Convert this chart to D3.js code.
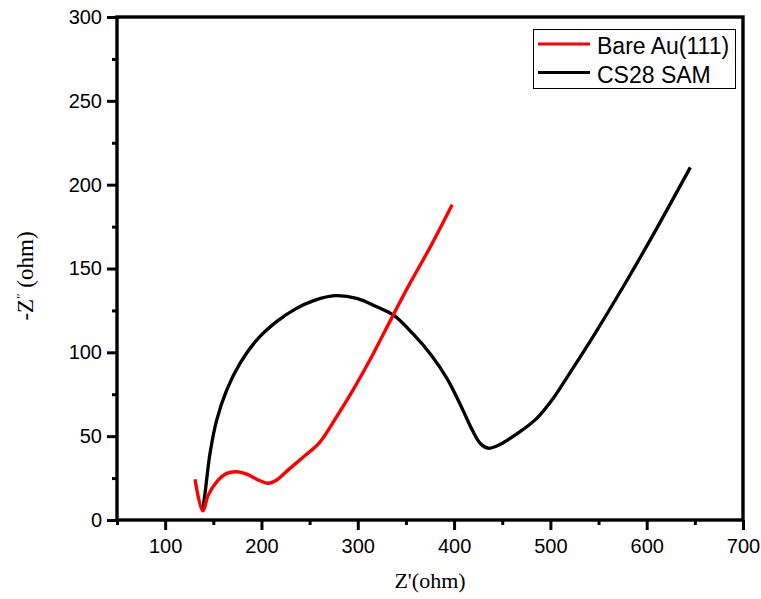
<!DOCTYPE html>
<html>
<head>
<meta charset="utf-8">
<script src="https://cdn.jsdelivr.net/npm/d3@7"></script>
<style>
  html, body { margin: 0; padding: 0; background: #fff; }
  svg { display: block; }
</style>
</head>
<body>
<svg id="chart" width="761" height="599"></svg>
<script>
// Nyquist data: real impedance Z' (ohm) and -Z'' (ohm)
const bareZre = [131, 139, 144.8, 153.5, 163.9, 174.3, 184.7, 198.5, 207.1, 215.8, 229.6, 245, 260, 278, 295, 315, 337, 355, 375, 398];
const bareZim = [24.3, 5.5, 14.9, 22.8, 27.8, 28.8, 27.4, 23.4, 21.9, 23.9, 30.8, 38.3, 46, 61.6, 77.5, 98, 122.5, 142, 162.5, 188];

const samZre = [139, 141.4, 146.6, 153.5, 163.9, 177.7, 195, 215, 235, 255, 276.4, 298.9, 319.7, 336.9, 357.7, 376, 393, 408, 419, 427.5, 435.5, 444.3, 468.5, 485.8, 503, 520, 545, 575, 610, 645.3];
const samZim = [6.0, 15.9, 39.8, 59.6, 77.5, 93.4, 107.3, 118, 125.8, 131, 133.8, 132.2, 127.2, 122.3, 110.8, 98.5, 84, 67, 53.5, 45.5, 42.8, 44.1, 52.7, 60.6, 72.6, 87.5, 110, 138.5, 173.5, 210.3];

const seriesNames = ["Bare Au(111)", "CS28 SAM"];
const seriesColors = ["#ff0000", "#000000"];

const xMajor = [100, 200, 300, 400, 500, 600, 700];
const xMinor = [50, 150, 250, 350, 450, 550, 650];
const yMajor = [0, 50, 100, 150, 200, 250, 300];
const yMinor = [25, 75, 125, 175, 225, 275];

const xTitle = "Z'(ohm)";

const svg = d3.select("#chart");
const plotL = 117, plotT = 17, plotR = 743, plotB = 520;

const x = d3.scaleLinear().domain([50, 700]).range([plotL, plotR]);
const y = d3.scaleLinear().domain([0, 300]).range([plotB, plotT]);

const tickFont = "'Liberation Sans', Arial, sans-serif";
const titleFont = "'Liberation Serif', 'Times New Roman', serif";

// axes: major ticks with labels, minor ticks without
function styleAxis(g) {
  g.select(".domain").remove();
  g.selectAll(".tick line").attr("stroke", "#000").attr("stroke-width", 3);
  g.selectAll(".tick text").attr("fill", "#000")
    .style("font-family", tickFont).style("font-size", "20px");
}

svg.append("g").attr("transform", `translate(0,${plotB})`)
  .call(d3.axisBottom(x).tickValues(xMajor).tickSize(10).tickPadding(9).tickFormat(d3.format("d")))
  .call(styleAxis);
svg.append("g").attr("transform", `translate(0,${plotB})`)
  .call(d3.axisBottom(x).tickValues(xMinor).tickSize(5).tickFormat(""))
  .call(styleAxis);
svg.append("g").attr("transform", `translate(${plotL},0)`)
  .call(d3.axisLeft(y).tickValues(yMajor).tickSize(10).tickPadding(5).tickFormat(d3.format("d")))
  .call(styleAxis);
svg.append("g").attr("transform", `translate(${plotL},0)`)
  .call(d3.axisLeft(y).tickValues(yMinor).tickSize(5).tickFormat(""))
  .call(styleAxis);

// plot frame
svg.append("rect")
  .attr("x", plotL).attr("y", plotT)
  .attr("width", plotR - plotL).attr("height", plotB - plotT)
  .attr("fill", "none").attr("stroke", "#000").attr("stroke-width", 3.4);

// curves
const line = d3.line()
  .x(d => x(d[0])).y(d => y(d[1]))
  .curve(d3.curveCatmullRom.alpha(0.5));

const samPts = samZre.map((v, i) => [v, samZim[i]]);
const barePts = bareZre.map((v, i) => [v, bareZim[i]]);

svg.append("path").datum(samPts)
  .attr("d", line).attr("fill", "none")
  .attr("stroke", seriesColors[1]).attr("stroke-width", 3.3)
  .attr("stroke-linejoin", "round");
svg.append("path").datum(barePts)
  .attr("d", line).attr("fill", "none")
  .attr("stroke", seriesColors[0]).attr("stroke-width", 3.4)
  .attr("stroke-linejoin", "round");

// legend
const lg = svg.append("g");
lg.append("rect").attr("x", 533.5).attr("y", 29.5).attr("width", 202).attr("height", 59)
  .attr("fill", "#fff").attr("stroke", "#000").attr("stroke-width", 1);
seriesNames.forEach((name, i) => {
  const cy = 44 + i * 28.5;
  lg.append("line").attr("x1", 538).attr("x2", 590).attr("y1", cy).attr("y2", cy)
    .attr("stroke", seriesColors[i]).attr("stroke-width", 3);
  lg.append("text").attr("x", 597).attr("y", cy + 10)
    .style("font-family", tickFont).style("font-size", "23px").attr("fill", "#000")
    .text(name);
});

// axis titles
svg.append("text").attr("x", 430).attr("y", 588)
  .attr("text-anchor", "middle")
  .style("font-family", titleFont).style("font-size", "22px")
  .text(xTitle);

const yt = svg.append("text")
  .attr("transform", "translate(33,276) rotate(-90)")
  .attr("text-anchor", "middle")
  .style("font-family", titleFont).style("font-size", "23px");
yt.append("tspan").text("-Z");
yt.append("tspan").attr("dy", -8).style("font-size", "13px").text("\u2033");
yt.append("tspan").attr("dy", 8).text(" (ohm)");
</script>
</body>
</html>
